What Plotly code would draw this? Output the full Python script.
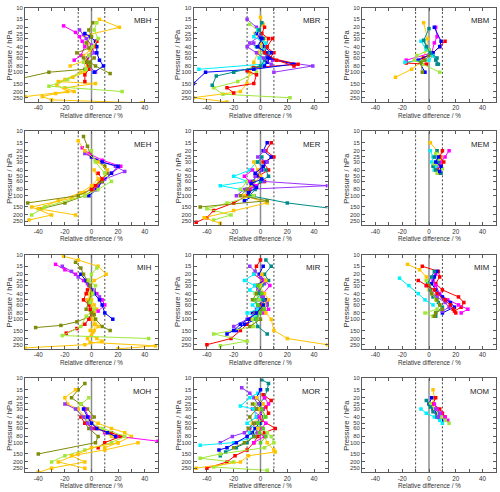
import plotly.graph_objects as go
import math

# ---------------- colours ----------------
COLORS = {
    "gold": "#FFC400",
    "olive": "#7F8C0A",
    "greenyellow": "#A0E83A",
    "magenta": "#FF00FF",
    "purple": "#9933FF",
    "blue": "#0000FF",
    "red": "#FF0000",
    "cyan": "#00F0FF",
    "teal": "#008B8B",
    "green": "#55CC22",
}

# ---------------- data: (colour, pressures hPa, relative difference %) ----------------
MBH = [
    ("gold", [15, 20, 27, 35, 45, 55, 65, 80], [6, 21, -5, -3, -1, -6, -4, -16]),
    ("gold", [80, 100, 120, 140, 150, 175, 200, 215, 240, 270, 300], [-3, -5, -14, -25, 3, -20, -13, -27, -37, -30, 38]),
    ("gold", [100, 130, 160, 200, 240, 290], [-8, -20, -26, -18, -50, -60]),
    ("magenta", [19, 24, 28, 33, 40, 55, 65], [-21, -12, -9, -7, -5, -8, -13]),
    ("purple", [22, 26, 30, 38, 50, 60, 70, 100], [-9, -6, -4, 0, 2, -3, -5, 3]),
    ("blue", [25, 28, 33, 40, 50, 65, 80, 100], [-5, -1, 3, 4, 4, 6, 9, 2]),
    ("red", [33, 40, 55, 70, 90, 110, 140], [4, 2, -2, -4, -2, -5, -5]),
    ("olive", [17, 22, 28, 35, 42, 50, 60, 70, 80, 105], [1, -2, 0, -4, -2, -11, -6, -1, 3, 14]),
    ("olive", [60, 70, 80, 90, 100, 135], [2, -3, -1, -5, -32, -60]),
    ("greenyellow", [17, 22, 30, 40, 55, 70, 90, 130, 165, 200], [4, 2, 5, 1, -2, -6, -4, -18, -32, 23]),
]

MBR = [
    ("purple", [15, 20, 27, 35, 45, 55, 65, 80, 100], [-10, -3, 0, -8, 2, 5, 9, 39, 10]),
    ("greenyellow", [18, 22, 30, 40, 55, 70, 85, 100, 140, 175, 220, 250], [-8, -2, 3, 1, 0, 5, -4, -3, -17, -35, -28, 22]),
    ("gold", [14, 18, 25, 35, 50, 70, 85, 100, 150, 200, 250, 290], [0, 2, -4, 1, -2, -5, -6, -8, -10, -15, -50, -25]),
    ("red", [20, 25, 30, 40, 50, 60, 75, 85, 95, 110, 150, 175, 210], [3, 1, 6, 4, 10, 7, 28, -5, -10, -3, -5, -25, -20]),
    ("blue", [25, 30, 40, 50, 60, 75, 90, 100, 150], [-3, 0, 3, 8, 5, 25, -5, -41, -50]),
    ("cyan", [22, 28, 35, 45, 60, 75, 90], [-2, -5, 4, 3, -1, 2, -46]),
    ("teal", [17, 22, 30, 40, 50, 65, 80, 100, 115, 160], [1, -1, 2, -3, 5, 3, 0, -20, -33, -36]),
    ("blue", [30, 40, 50, 60, 70, 80], [1, -2, 4, 7, 5, 3]),
    ("purple", [35, 40, 50, 60, 75], [-5, -10, -3, 2, 8]),
    ("red", [30, 40, 50, 65, 80], [9, 5, 3, 12, 25]),
]

MBM = [
    ("gold", [17, 30, 45, 60, 70, 90, 120], [-4, -1, -2, -5, -6, -13, -25]),
    ("teal", [21, 32, 45, 55, 65, 75], [0, -4, 0, 3, 5, 7]),
    ("magenta", [20, 28, 35, 50, 65], [5, 6, 4, 2, -17]),
    ("red", [33, 40, 50, 60, 72, 75], [12, 8, 3, -4, -17, -2]),
    ("blue", [20, 33, 40, 50, 65, 100], [4, 9, 8, 3, -8, -3]),
    ("cyan", [33, 45, 55, 65, 70], [-6, -2, 3, 0, -18]),
    ("greenyellow", [45, 55, 65, 75, 100], [0, -9, -11, -5, 8]),
    ("olive", [55, 65, 70, 100], [0, -3, -6, -5]),
    ("teal", [32, 40, 50, 60, 75], [-4, -2, 1, 6, 6]),
]

MEH = [
    ("olive", [12, 17, 22, 28, 35, 45, 60, 80, 100, 130, 160], [-6, -3, -1, 3, 10, 12, 6, 2, -5, -20, -38]),
    ("magenta", [18, 22, 28, 35, 45, 60, 80], [-7, -2, 8, 22, 15, 8, 3]),
    ("purple", [22, 28, 35, 42, 55, 70], [-5, 4, 18, 25, 10, 5]),
    ("blue", [25, 30, 35, 45, 60, 80, 100], [0, 8, 20, 15, 8, 4, -2]),
    ("gold", [14, 20, 30, 40, 55, 70, 90, 110, 150, 200, 240], [-10, -5, 5, 12, 8, 2, -5, -15, -45, -30, -47]),
    ("gold", [40, 55, 70, 90, 120, 160, 200], [2, 5, 0, -8, -25, -40, -12]),
    ("greenyellow", [20, 30, 45, 60, 80, 100, 150, 200], [0, 3, 10, 15, 5, -5, -35, -45]),
    ("olive", [60, 80, 100, 130], [8, 0, -10, -48]),
    ("red", [45, 55, 70, 80], [5, 8, 3, 0]),
]

MER = [
    ("red", [15, 20, 25, 30, 40, 50, 60, 70, 80, 100, 130, 170, 220, 260], [8, 4, 10, 2, 6, -2, 3, -5, -8, -10, -20, -35, -40, -48]),
    ("blue", [15, 20, 25, 30, 40, 50, 60, 70, 80, 100, 120], [5, 2, 8, 4, 1, -3, -6, -4, -10, -5, -12]),
    ("purple", [20, 25, 30, 40, 50, 60, 70, 80, 100], [3, -2, 5, 0, -4, 2, 50, -12, -18]),
    ("cyan", [30, 40, 50, 60, 70, 80, 100], [-3, -8, -20, -10, -30, -15, -6]),
    ("teal", [25, 30, 40, 50, 60, 80, 100, 130, 160], [1, -2, 4, 6, 0, -4, -8, 20, 55]),
    ("greenyellow", [60, 80, 100, 130, 160, 200, 240], [-10, -15, -5, -25, -40, -22, -35]),
    ("gold", [30, 40, 50, 70, 100, 130, 170, 220, 270], [-5, -2, 0, -7, -12, 5, -20, -42, -30]),
    ("magenta", [40, 50, 60, 70, 80], [-6, -12, -8, -3, -10]),
    ("olive", [60, 80, 100, 120, 150], [-5, -10, -15, 5, -45]),
    ("blue", [35, 45, 55, 65, 75, 90], [2, -4, 1, -7, -3, -9]),
]

MEM = [
    ("gold", [15, 20, 25, 30, 35, 40], [1, 6, 9, 8, 6, 4]),
    ("magenta", [20, 25, 30, 35, 40], [15, 12, 9, 7, 5]),
    ("red", [20, 25, 30, 35, 40, 45], [10, 8, 11, 9, 6, 7]),
    ("cyan", [20, 25, 30, 35, 40], [1, 3, 2, 5, 4]),
    ("teal", [20, 25, 30, 35, 40, 45], [6, 4, 7, 3, 5, 9]),
    ("greenyellow", [22, 27, 32, 38, 45], [5, 7, 4, 10, 6]),
    ("blue", [25, 30, 35, 42], [7, 5, 9, 8]),
]

MIH = [
    ("gold", [10.5, 12, 15, 20, 25, 30, 40, 50, 60, 70, 80, 100, 120, 150], [-21, -10, 5, 11, 2, -1, -3, 0, 2, 4, 1, 3, 2, -1]),
    ("gold", [30, 40, 50, 60, 80, 100, 130, 160, 200, 230, 260, 290], [-2, 0, -3, -1, 2, 0, 5, 1, -3, -1, 48, 20]),
    ("gold", [120, 150, 180, 200, 220, 250, 280], [3, 2, 0, 4, 8, -5, -50]),
    ("magenta", [14, 17, 20, 25, 30, 40, 50, 60, 75], [-27, -20, -12, -6, -2, 4, 8, 10, 5]),
    ("purple", [15, 18, 22, 28, 35, 45], [-22, -15, -10, -3, 2, 6]),
    ("blue", [20, 25, 30, 40, 50, 60, 80, 100], [-8, -4, -1, 2, 6, 8, 10, 16]),
    ("red", [35, 40, 50, 60, 70, 80, 100, 120, 140, 165], [-3, -4, -6, -2, -1, 0, -2, -5, -11, -19]),
    ("olive", [13, 16, 20, 25, 30, 40, 55, 70, 85, 110, 125, 135], [-12, -8, -6, -3, -1, 0, -2, -4, 2, -11, -23, -42]),
    ("greenyellow", [16, 20, 25, 30, 40, 55, 70, 90, 130, 180, 200], [4, 0, -2, 3, 1, -1, 2, -4, -8, -22, 43]),
    ("olive", [80, 100, 130, 150], [0, 3, 8, 14]),
]

MIR = [
    ("red", [12, 15, 20, 25, 30, 40, 50, 60, 70, 80, 100, 120, 150, 200, 250], [0, -3, -5, 2, -2, 0, 3, 1, -2, -5, -8, -10, -15, -22, -40]),
    ("blue", [15, 20, 25, 30, 40, 50, 60, 70, 80, 100, 120, 150], [2, -1, 3, -4, 1, 4, -2, 0, -6, -3, -12, -18]),
    ("purple", [15, 18, 22, 28, 35, 45, 55, 70, 85, 100, 130], [-8, -4, 0, 3, -2, 2, 5, -3, -5, -10, -20]),
    ("cyan", [20, 25, 30, 35, 40, 50, 60, 70, 80, 90], [-5, -12, -4, -8, -3, 0, -6, -2, -10, -4]),
    ("teal", [12, 15, 20, 25, 30, 40, 50, 60, 80, 100, 130, 170], [4, 8, 3, 6, 1, -1, 2, 5, 0, -4, -2, 5]),
    ("magenta", [25, 30, 40, 50, 60, 70, 80], [3, 7, 2, -1, 4, 6, 2]),
    ("greenyellow", [30, 40, 50, 60, 80, 100, 130, 170, 220, 260], [0, -4, -1, 3, -2, -6, -5, -35, -10, -30]),
    ("gold", [20, 25, 30, 40, 50, 60, 80, 100, 150, 200, 250], [1, 4, -1, 3, 6, 2, 4, 8, 10, 20, 50]),
    ("olive", [40, 50, 60, 70, 80, 100, 130], [-3, -6, -2, 1, -4, 0, -8]),
    ("green", [30, 40, 50, 60, 70, 80, 100], [-2, 1, -4, -2, 3, 0, -3]),
    ("blue", [60, 80, 100, 120, 150, 170], [2, -3, -9, -15, -20, -25]),
]

MIM = [
    ("red", [15, 18, 22, 28, 35, 45, 55, 65, 75], [-5, 7, 8, 5, 10, 22, 26, 24, 19]),
    ("gold", [14, 17, 22, 28, 35], [-16, -7, -2, -1, 0]),
    ("cyan", [23, 30, 40, 50, 60], [-22, -15, -8, -3, 3]),
    ("magenta", [20, 25, 30, 40, 50, 60, 70, 80], [5, 3, 5, 8, 14, 22, 29, 24]),
    ("blue", [18, 22, 28, 35, 45, 55, 65, 80], [6, 4, 2, 5, 10, 16, 19, 10]),
    ("purple", [30, 35, 45, 55, 65, 75], [-2, 1, 6, 12, 15, 10]),
    ("teal", [18, 22, 28, 35, 45, 55, 65, 80, 90], [4, 2, -1, 1, 3, 7, 10, 5, 5]),
    ("greenyellow", [25, 30, 40, 50, 60, 70, 80, 90], [-2, 0, 2, 5, 8, 6, -3, 3]),
    ("olive", [30, 40, 50, 60, 70, 80, 90], [0, 2, 6, 8, 10, 5, 4]),
    ("red", [25, 30, 35, 40, 50, 60, 70, 80], [-8, -2, 4, 6, 12, 16, 18, 20]),
]

MOH = [
    ("olive", [12, 15, 20, 25, 30, 40, 50, 60, 80, 100, 150], [-5, -10, -15, -8, -3, 2, -5, -2, 5, 3, -40]),
    ("gold", [15, 20, 25, 30, 40, 50, 60, 70, 80, 100, 120], [-12, -20, -18, -10, -5, 5, 15, 25, 30, 20, 10]),
    ("magenta", [30, 40, 50, 60, 70, 80, 95], [-5, -2, 0, 5, 10, 20, 50]),
    ("red", [40, 50, 60, 70, 80, 100, 120], [-8, -5, 2, 15, 22, 10, 5]),
    ("greenyellow", [20, 25, 30, 40, 50, 60, 80, 100, 130, 160, 200], [-2, -8, -12, -6, 0, 8, 25, 15, -5, -20, -30]),
    ("gold", [60, 80, 100, 120, 150, 200, 250], [5, 15, 20, 0, -10, -25, -5]),
    ("purple", [25, 30, 40, 50, 60], [-20, -12, -6, -3, 0]),
    ("blue", [30, 40, 50, 60, 70, 80], [-6, -3, 0, 4, 12, 18]),
    ("gold", [100, 130, 160, 200, 250, 290], [35, 10, -15, -5, -30, -40]),
]

MOR = [
    ("teal", [10.5, 12, 15, 20, 25, 30, 40, 50, 60, 80, 100, 120, 140, 160], [1, 6, 5, 3, -1, 2, -3, 0, -2, -5, -10, -18, -26, -30]),
    ("purple", [14, 17, 20, 25, 30, 40, 50, 60, 70, 80, 100], [-14, -8, -5, -2, -6, 0, -3, -8, -12, -21, -30]),
    ("cyan", [17, 20, 27, 30, 40, 50, 60, 70, 80, 100, 110], [-2, -8, -15, -5, -3, -10, -4, -8, -3, -20, -45]),
    ("red", [18, 22, 28, 35, 45, 60, 70, 80, 100, 130, 160, 200, 250], [2, 8, 4, 6, 1, 11, 3, -2, -5, -10, -19, -25, -40]),
    ("blue", [15, 20, 25, 30, 40, 50, 60, 70, 80, 100, 120, 130], [0, -3, 1, -2, 2, -1, -4, -6, -10, -18, -25, -31]),
    ("greenyellow", [25, 30, 40, 50, 60, 70, 80, 100, 120, 150, 175, 200, 240, 270], [-4, 0, 3, -2, 1, 5, 8, 10, 3, -30, -45, -20, -35, 5]),
    ("gold", [20, 25, 30, 40, 50, 60, 80, 100, 130, 140, 160, 200, 250], [-3, 2, -1, 0, -6, -2, 3, 5, 10, 11, -9, -15, -48]),
    ("magenta", [20, 25, 30, 40, 50, 60, 70, 80, 100], [3, 6, 2, -1, 4, 1, -2, 3, -5]),
    ("olive", [25, 30, 40, 50, 60, 80, 100, 120], [-6, -3, -8, -5, -9, -4, -12, -20]),
    ("green", [30, 40, 50, 60, 70, 80, 100], [1, 4, -2, 2, -1, 4, 0]),
]

MOM = [
    ("gold", [15, 20, 25, 30], [3, 4, 2, 5]),
    ("red", [20, 25, 30, 35, 40], [5, 3, 8, 10, 12]),
    ("magenta", [25, 30, 35, 40, 45], [4, 6, 9, 12, 14]),
    ("blue", [20, 25, 30, 35, 40, 45], [2, 0, 3, 6, 8, 11]),
    ("cyan", [30, 35, 40, 45, 50], [-6, -2, 4, 8, 10]),
    ("greenyellow", [25, 30, 35, 40, 45, 50], [1, 4, 7, 9, 12, 15]),
    ("teal", [22, 28, 33, 40], [-2, 1, 3, 6]),
    ("purple", [30, 35, 40], [5, 8, 7]),
]

PANEL_NAMES = ["MBH", "MBR", "MBM", "MEH", "MER", "MEM", "MIH", "MIR", "MIM", "MOH", "MOR", "MOM"]
PANEL_DATA = [MBH, MBR, MBM, MEH, MER, MEM, MIH, MIR, MIM, MOH, MOR, MOM]

X_TICKS = [-50, -40, -30, -20, -10, 0, 10, 20, 30, 40, 50]
X_LABELS = ["", "-40", "", "-20", "", "0", "", "20", "", "40", ""]
Y_TICKS = [10, 15, 20, 25, 30, 40, 50, 60, 80, 100, 150, 200, 250]
Y_LABELS = ["10", "15", "20", "25", "30", "40", "50", "60", "80", "100", "150", "200", "250"]
P_TOP, P_BOTTOM = 10, 290

# ---------------- layout geometry (pixels) ----------------
W, H = 500, 492
COLS = [(25, 158), (193.5, 327.5), (362, 496)]
ROW_TOPS = [5, 129.2, 253.5, 377.7]
ROW_H = 94.5
FRAME = "#5a5a5a"
FONT = "Liberation Sans, Arial, sans-serif"
TXT = 6.3
YTXT = 5.9

fig = go.Figure()
layout = dict(
    width=W, height=H, margin=dict(l=0, r=0, t=0, b=0),
    paper_bgcolor="white", plot_bgcolor="white", showlegend=False,
    font=dict(family=FONT, size=TXT, color="#333"),
)
annotations = []
shapes = []

for k, (name, profiles) in enumerate(zip(PANEL_NAMES, PANEL_DATA)):
    r, c = divmod(k, 3)
    idx = k + 1
    xa = "x" if idx == 1 else f"x{idx}"
    ya = "y" if idx == 1 else f"y{idx}"
    x0, x1 = COLS[c]
    t = ROW_TOPS[r]
    b = t + ROW_H
    layout["xaxis" if idx == 1 else f"xaxis{idx}"] = dict(
        domain=[x0 / W, x1 / W], anchor=ya, range=[-50, 50],
        tickmode="array", tickvals=X_TICKS, ticktext=X_LABELS,
        ticks="inside", ticklen=3, tickcolor=FRAME, tickwidth=1,
        showline=True, linecolor=FRAME, linewidth=1, mirror="ticks",
        showgrid=False, zeroline=False,
        tickfont=dict(size=TXT, color="#333", family=FONT),
    )
    layout["yaxis" if idx == 1 else f"yaxis{idx}"] = dict(
        domain=[1 - b / H, 1 - t / H], anchor=xa, type="log",
        range=[math.log10(P_BOTTOM), math.log10(P_TOP)],
        tickmode="array", tickvals=Y_TICKS, ticktext=Y_LABELS,
        ticks="inside", ticklen=3, tickcolor=FRAME, tickwidth=1,
        showline=True, linecolor=FRAME, linewidth=1, mirror="ticks",
        showgrid=False, zeroline=False,
        tickfont=dict(size=YTXT, color="#333", family=FONT),
    )
    shapes.append(dict(type="line", xref=xa, yref=f"{ya} domain", x0=0, x1=0, y0=0, y1=1,
                       line=dict(color="#8c8c8c", width=1.5), layer="below"))
    for xv in (-10, 10):
        shapes.append(dict(type="line", xref=xa, yref=f"{ya} domain", x0=xv, x1=xv, y0=0, y1=1,
                           line=dict(color="#444", width=1, dash="2px,2px"), layer="below"))
    for col, pres, vals in profiles:
        fig.add_trace(go.Scatter(
            x=vals, y=pres, xaxis=xa, yaxis=ya, mode="lines+markers",
            line=dict(color=COLORS[col], width=1),
            marker=dict(symbol="square", size=3.5, color=COLORS[col]),
            cliponaxis=True, hoverinfo="skip",
        ))
    annotations.append(dict(text=name, xref="paper", yref="paper",
                            x=(x1 - 5) / W, y=1 - (t + 13) / H, xanchor="right", yanchor="middle",
                            showarrow=False, font=dict(size=7.8, color="#222", family=FONT)))
    annotations.append(dict(text="Relative difference / %", xref="paper", yref="paper",
                            x=(x0 + x1) / 2 / W, y=1 - (b + 13.5) / H, xanchor="center", yanchor="middle",
                            showarrow=False, font=dict(size=TXT, color="#333", family=FONT)))
    annotations.append(dict(text="Pressure / hPa", xref="paper", yref="paper",
                            x=(x0 - 15.5) / W, y=1 - (t + ROW_H / 2) / H, xanchor="center", yanchor="middle",
                            textangle=-90, showarrow=False, font=dict(size=7.6, color="#333", family=FONT)))

layout["annotations"] = annotations
layout["shapes"] = shapes
fig.update_layout(**layout)
fig.write_html("out.html", config={"displayModeBar": False},
               post_script="document.body.style.margin='0';document.body.style.overflow='hidden';")
